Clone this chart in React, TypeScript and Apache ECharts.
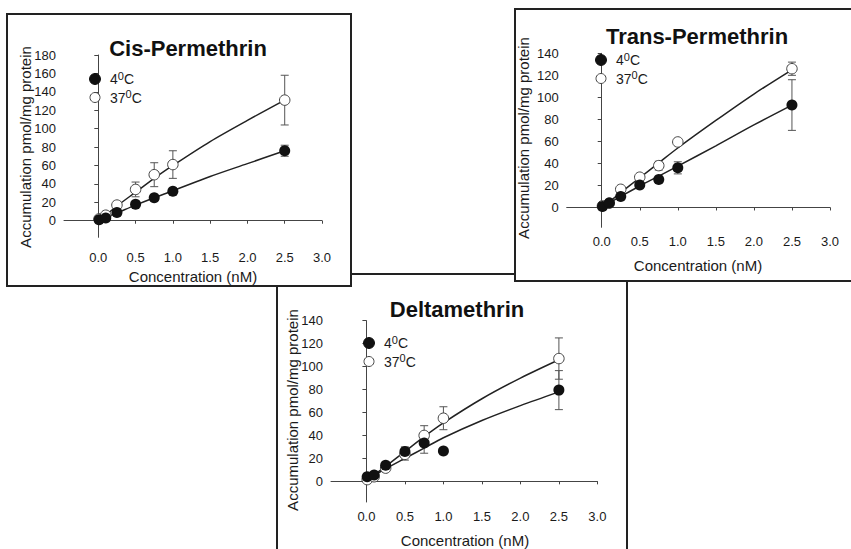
import React, { useEffect, useRef } from "react";
import * as echarts from "echarts";

const concentrations = [0.01, 0.1, 0.25, 0.5, 0.75, 1.0, 2.5];
const fitX = [0.025, 0.25, 0.5, 0.75, 1.0, 1.5, 2.0, 2.5];
const seriesNames = ["4", "37"];
const xTicks = [0, 0.5, 1, 1.5, 2, 2.5, 3];

const cisTitle = "Cis-Permethrin";
const cis4 = [1, 3, 9, 18, 25, 32, 76];
const cis4Err = [0, 0, 1, 2, 2, 2, 6];
const cis37 = [2, 6, 17, 34, 50, 61, 131];
const cis37Err = [0, 1, 4, 8, 13, 15, 27];
const cisFit4 = [1, 8.5, 17, 25, 32.5, 48, 62, 76];
const cisFit37 = [1, 16, 31, 46, 60, 86, 109, 131];
const cisYTicks = [0, 20, 40, 60, 80, 100, 120, 140, 160, 180];

const transTitle = "Trans-Permethrin";
const trans4 = [1, 4, 10, 20.5, 25.5, 36, 93];
const trans4Err = [0, 0, 1, 1, 2, 5.5, 23];
const trans37 = [1.5, 4, 16.5, 27.5, 38, 59.5, 126];
const trans37Err = [0, 0, 1, 2, 4, 0, 6];
const transFit4 = [1, 10, 19.5, 28.5, 37.5, 56, 75, 93];
const transFit37 = [1, 13.5, 27, 40.5, 54, 79, 103, 125];
const transYTicks = [0, 20, 40, 60, 80, 100, 120, 140];

const deltaTitle = "Deltamethrin";
const delta4 = [4, 5.5, 14, 26, 33.5, 26.5, 79.5];
const delta4Err = [0, 0, 1, 4, 9, 0, 17];
const delta37 = [1.5, 4, 11.5, 23.5, 40, 55, 107];
const delta37Err = [0, 0, 1, 5, 8.5, 10, 18];
const deltaFit4 = [2.5, 11, 20, 29, 38, 53, 66, 78];
const deltaFit37 = [2, 13, 26, 39, 51, 72, 90, 106];
const deltaYTicks = [0, 20, 40, 60, 80, 100, 120, 140];

const yAxisName = "Accumulation pmol/mg protein";
const xAxisName = "Concentration (nM)";

const FONT = "'Liberation Sans', Arial, sans-serif";
const INK = "#1a1a1a";
const AXIS = "#444";

type Panel = {
  title: string;
  v4: number[]; e4: number[]; v37: number[]; e37: number[];
  f4: number[]; f37: number[];
  yTicks: number[];
  grid: { left: number; top: number; width: number; height: number };
  labelMargin: number;
  titlePos: [number, number];
  yNamePos: [number, number];
  xNamePos: [number, number];
  legendPos: [number, number];
};

const panels: Panel[] = [
  {
    title: cisTitle, v4: cis4, e4: cis4Err, v37: cis37, e37: cis37Err, f4: cisFit4, f37: cisFit37,
    yTicks: cisYTicks,
    grid: { left: 64, top: 55, width: 258, height: 182.3 },
    labelMargin: 14,
    titlePos: [188, 48], yNamePos: [25, 147], xNamePos: [193, 276], legendPos: [95, 79],
  },
  {
    title: transTitle, v4: trans4, e4: trans4Err, v37: trans37, e37: trans37Err, f4: transFit4, f37: transFit37,
    yTicks: transYTicks,
    grid: { left: 566.7, top: 53.3, width: 263.3, height: 174 },
    labelMargin: 8,
    titlePos: [697, 36], yNamePos: [523, 138], xNamePos: [698, 265], legendPos: [601, 60],
  },
  {
    title: deltaTitle, v4: delta4, e4: delta4Err, v37: delta37, e37: delta37Err, f4: deltaFit4, f37: deltaFit37,
    yTicks: deltaYTicks,
    grid: { left: 331, top: 320.7, width: 266.4, height: 181.3 },
    labelMargin: 8,
    titlePos: [457, 309], yNamePos: [292, 410], xNamePos: [465, 540], legendPos: [369, 343],
  },
];

function errData(vals: number[], errs: number[]) {
  return concentrations
    .map((x, i) => [x, vals[i] - errs[i], vals[i] + errs[i]])
    .filter((_, i) => errs[i] > 0);
}

const errRender = (params: any, api: any) => {
  const x = api.value(0);
  const lo = api.coord([x, api.value(1)]);
  const hi = api.coord([x, api.value(2)]);
  const w = 4;
  const st = { stroke: "#555", lineWidth: 1 };
  return {
    type: "group",
    children: [
      { type: "line", shape: { x1: lo[0], y1: lo[1], x2: hi[0], y2: hi[1] }, style: st },
      { type: "line", shape: { x1: hi[0] - w, y1: hi[1], x2: hi[0] + w, y2: hi[1] }, style: st },
      { type: "line", shape: { x1: lo[0] - w, y1: lo[1], x2: lo[0] + w, y2: lo[1] }, style: st },
    ],
  };
};

export default function App() {
  const ref = useRef<HTMLDivElement>(null);
  useEffect(() => {
    if (!ref.current) return;
    const chart = echarts.init(ref.current, undefined, { renderer: "svg" });

    const grids: any[] = [];
    const xAxes: any[] = [];
    const yAxes: any[] = [];
    const series: any[] = [];
    const texts: any[] = [];

    panels.forEach((p, gi) => {
      grids.push({ ...p.grid, containLabel: false });
      xAxes.push({
        type: "value", gridIndex: gi, min: -0.46, max: 3.0,
        splitLine: { show: false },
        axisLine: { show: true, lineStyle: { color: AXIS, width: 1 } },
        axisTick: { show: true, length: 3, lineStyle: { color: AXIS }, customValues: xTicks },
        axisLabel: {
          show: true, customValues: xTicks, margin: p.labelMargin,
          fontSize: 13, fontFamily: FONT, color: INK,
          formatter: (v: number) => v.toFixed(1),
        },
      });
      const yMax = p.yTicks[p.yTicks.length - 1];
      yAxes.push({
        type: "value", gridIndex: gi, min: -18, max: yMax,
        splitLine: { show: false },
        axisLine: { show: true, lineStyle: { color: AXIS, width: 1 } },
        axisTick: { show: true, length: 4, lineStyle: { color: AXIS }, customValues: p.yTicks },
        axisLabel: {
          show: true, customValues: p.yTicks, margin: 8,
          fontSize: 13, fontFamily: FONT, color: INK,
        },
      });

      const fits = [p.f4, p.f37];
      fits.forEach((f) => {
        series.push({
          type: "line", xAxisIndex: gi, yAxisIndex: gi, smooth: 0.3, showSymbol: false,
          symbol: "none", lineStyle: { color: "#222", width: 1.5 }, z: 2,
          data: fitX.map((x, i) => [x, f[i]]),
        });
      });
      series.push({
        type: "custom", xAxisIndex: gi, yAxisIndex: gi, renderItem: errRender, z: 1,
        encode: { x: 0, y: [1, 2] }, data: errData(p.v37, p.e37),
      });
      series.push({
        type: "custom", xAxisIndex: gi, yAxisIndex: gi, renderItem: errRender, z: 1,
        encode: { x: 0, y: [1, 2] }, data: errData(p.v4, p.e4),
      });
      series.push({
        name: seriesNames[1], type: "scatter", xAxisIndex: gi, yAxisIndex: gi, symbol: "circle",
        symbolSize: 10.5, z: 3,
        itemStyle: { color: "#fff", borderColor: "#444", borderWidth: 1, opacity: 1 },
        data: concentrations.map((x, i) => [x, p.v37[i]]),
      });
      series.push({
        name: seriesNames[0], type: "scatter", xAxisIndex: gi, yAxisIndex: gi, symbol: "circle",
        symbolSize: 11, z: 4,
        itemStyle: { color: "#111", borderColor: "#111", borderWidth: 0, opacity: 1 },
        data: concentrations.map((x, i) => [x, p.v4[i]]),
      });

      texts.push({
        type: "text", x: p.titlePos[0], y: p.titlePos[1], z: 10,
        style: { text: p.title, align: "center", verticalAlign: "middle", fontSize: 22, fontWeight: "bold", fontFamily: FONT, fill: "#111" },
      });
      texts.push({
        type: "text", x: p.yNamePos[0], y: p.yNamePos[1], rotation: Math.PI / 2, z: 10,
        style: { text: yAxisName, align: "center", verticalAlign: "middle", fontSize: 15, fontFamily: FONT, fill: INK },
      });
      texts.push({
        type: "text", x: p.xNamePos[0], y: p.xNamePos[1], z: 10,
        style: { text: xAxisName, align: "center", verticalAlign: "middle", fontSize: 15, fontFamily: FONT, fill: INK },
      });
      const [lx, ly] = p.legendPos;
      texts.push({ type: "circle", x: lx, y: ly, z: 10, shape: { r: 5.5 }, style: { fill: "#111", stroke: "#111" } });
      texts.push({ type: "circle", x: lx, y: ly + 18.5, z: 10, shape: { r: 5 }, style: { fill: "#fff", stroke: "#444", lineWidth: 1 } });
      seriesNames.forEach((nm, k) => {
        texts.push({
          type: "text", x: lx + 15, y: ly + k * 18.5 - 1, z: 10,
          style: {
            text: `{n|${nm}}{s|0}{n|C}`,
            verticalAlign: "middle", align: "left",
            rich: {
              n: { fontSize: 14, fontFamily: FONT, fill: INK, verticalAlign: "bottom", lineHeight: 16 },
              s: { fontSize: 11, fontFamily: FONT, fill: INK, verticalAlign: "top", lineHeight: 16 },
            },
          },
        });
      });
    });

    const boxStyle = { fill: "#fff", stroke: "#222", lineWidth: 2 };
    const boxes = [
      { type: "rect", z: 0, shape: { x: 277, y: 274, width: 350, height: 290 }, style: boxStyle },
      { type: "rect", z: 0, shape: { x: 7, y: 14, width: 344, height: 272 }, style: boxStyle },
      { type: "rect", z: 0, shape: { x: 515, y: 9, width: 350, height: 272 }, style: boxStyle },
    ];

    chart.setOption({
      animation: false,
      backgroundColor: "#fff",
      grid: grids,
      xAxis: xAxes,
      yAxis: yAxes,
      series,
      graphic: { elements: [...boxes, ...texts] },
    });
    return () => chart.dispose();
  }, []);
  return <div ref={ref} style={{ position: "absolute", left: 0, top: 0, width: 851, height: 549 }} />;
}
